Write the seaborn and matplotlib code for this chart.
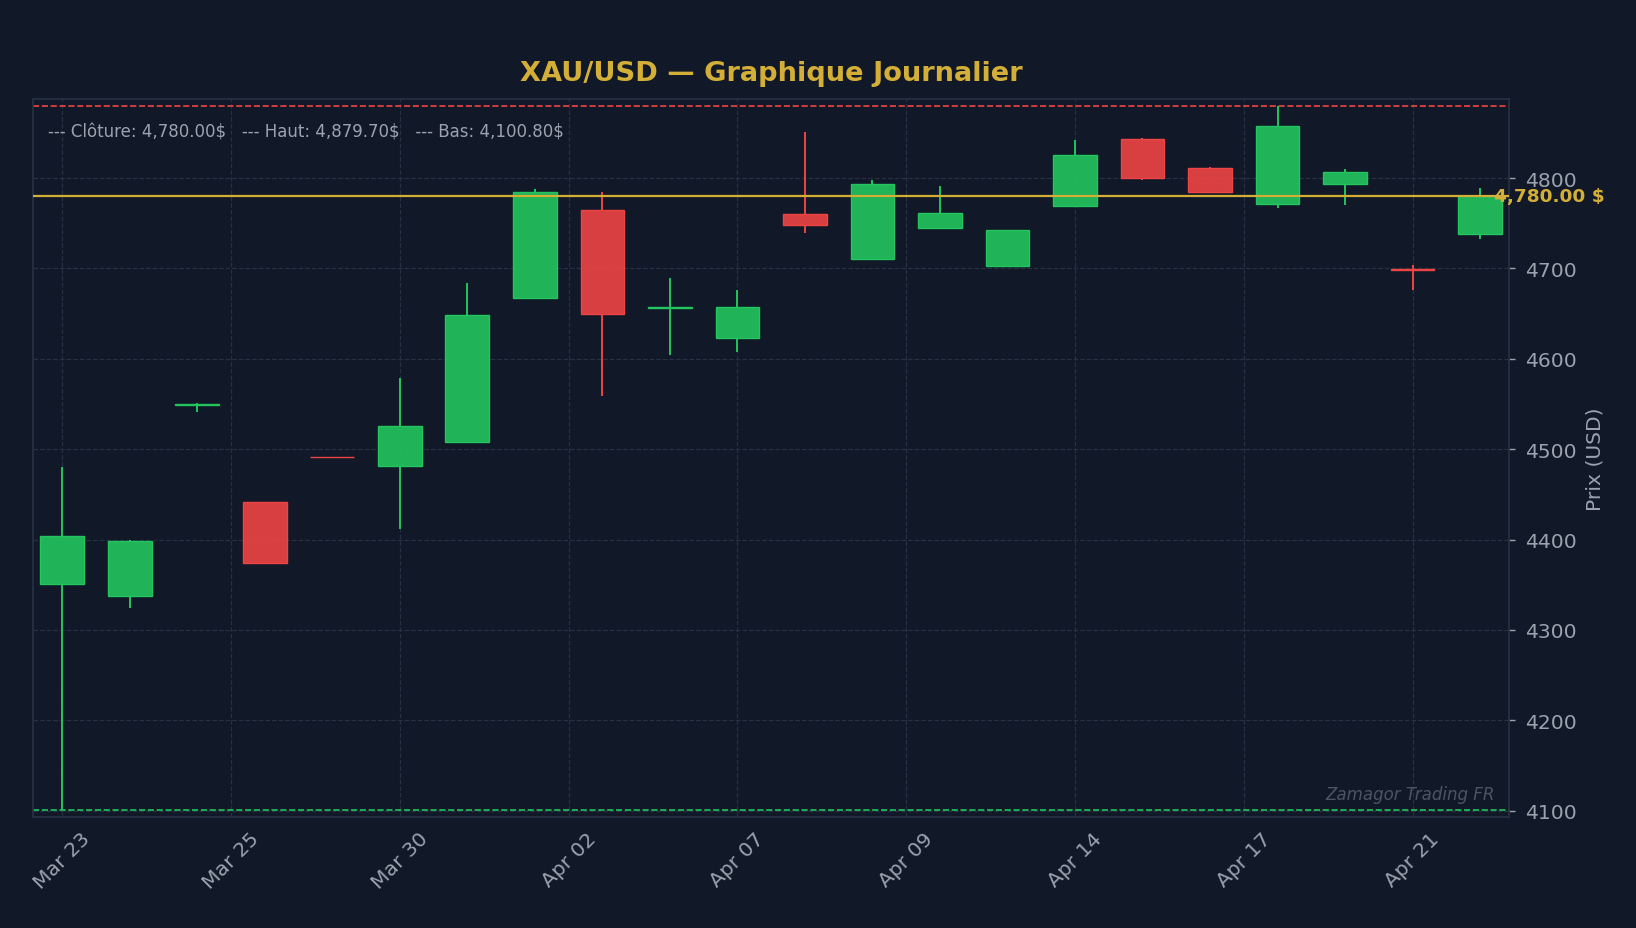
import numpy as np
import matplotlib
matplotlib.use("Agg")
import matplotlib.pyplot as plt
import seaborn as sns
from matplotlib.colors import to_rgba
from matplotlib.ticker import FuncFormatter, MultipleLocator

# daily candles (trading days only)
dates = ["Mar 23", "Mar 24", "Mar 25", "Mar 26", "Mar 27", "Mar 30", "Mar 31",
         "Apr 01", "Apr 02", "Apr 06", "Apr 07", "Apr 08", "Apr 09", "Apr 10",
         "Apr 13", "Apr 14", "Apr 15", "Apr 16", "Apr 17", "Apr 20", "Apr 21", "Apr 22"]
opens = [4351, 4337, 4549, 4441, 4491.5, 4481, 4508, 4667, 4765, 4656, 4623,
         4760, 4710, 4745, 4703, 4769, 4843, 4811, 4771, 4793, 4699, 4738]
highs = [4480, 4399, 4551, 4442, 4491.5, 4579, 4684, 4788, 4784, 4689, 4676,
         4851, 4798, 4791, 4743, 4842, 4844, 4812, 4879.7, 4810, 4704, 4789]
lows = [4100.8, 4324, 4541, 4374, 4491, 4412, 4508, 4667, 4559, 4604, 4607,
        4739, 4710, 4745, 4703, 4769, 4798, 4785, 4767, 4770, 4676, 4733]
closes = [4404, 4398, 4550, 4374, 4491, 4526, 4648, 4784, 4650, 4657, 4657,
          4748, 4793, 4761, 4743, 4826, 4800, 4785, 4858, 4807, 4698, 4780]

last_close = 4780.00
period_high = 4879.70
period_low = 4100.80

BG = "#111827"
GREEN = "#22c55e"
RED = "#ef4444"
GOLD = "#d4af37"
TXT = "#9ca3af"

sns.set_theme(style="dark", rc={
    "figure.facecolor": BG,
    "axes.facecolor": BG,
    "axes.edgecolor": "#263244",
    "grid.color": "#263244",
    "text.color": TXT,
    "xtick.color": TXT,
    "ytick.color": TXT,
    "axes.labelcolor": TXT,
})
plt.rcParams["font.family"] = ["DejaVu Sans"]

fig = plt.figure(figsize=(16.36, 9.29), dpi=100)
ax = fig.add_axes([0.0204, 0.1195, 0.9020, 0.7729])

x = np.arange(len(opens))
o = np.array(opens)
c = np.array(closes)
body_lo = np.minimum(o, c)
body_hi = np.maximum(o, c)
up = c >= o
cols = [GREEN if u else RED for u in up]

# wicks (above and below the body) then bodies
ax.vlines(x, body_hi, highs, colors=cols, linewidth=1.4, zorder=2)
ax.vlines(x, lows, body_lo, colors=cols, linewidth=1.4, zorder=2)
ax.bar(x, body_hi - body_lo, bottom=body_lo, width=0.65,
       color=[to_rgba(cc, 0.9) for cc in cols], edgecolor=cols,
       linewidth=1.0, zorder=3)

# reference lines
ax.axhline(last_close, color=GOLD, linewidth=1.6, zorder=4)
ax.axhline(period_high, color=RED, linewidth=1.2, linestyle="--", zorder=1)
ax.axhline(period_low, color=GREEN, linewidth=1.2, linestyle="--", zorder=1)

ax.text(len(opens) - 0.8, last_close, f"{last_close:,.2f} $", color=GOLD,
        fontsize=13.3, fontweight="bold", va="center", ha="left", clip_on=False, zorder=5)

ax.text(0.01, 0.955,
        f"--- Clôture: {last_close:,.2f}$   --- Haut: {period_high:,.2f}$   --- Bas: {period_low:,.2f}$",
        transform=ax.transAxes, fontsize=12, color=TXT, va="center", ha="left")

ax.text(0.99, 0.019, "Zamagor Trading FR", transform=ax.transAxes, fontsize=12,
        color="#4b5563", style="italic", ha="right", va="bottom")

span = period_high - period_low
ax.set_ylim(period_low - 0.01 * span, period_high + 0.01 * span)
ax.set_xlim(-0.43, len(opens) - 0.57)

ax.xaxis.set_major_locator(MultipleLocator(2.5))
ax.xaxis.set_major_formatter(FuncFormatter(
    lambda v, p: dates[int(round(v))] if 0 <= round(v) < len(dates) else ""))
ax.yaxis.set_major_locator(MultipleLocator(100))
ax.yaxis.tick_right()
ax.yaxis.set_label_position("right")
ax.set_ylabel("Prix (USD)", fontsize=14.6, labelpad=6)
ax.tick_params(axis="y", labelsize=14.6, length=4.5, width=1, pad=7, colors=TXT)
ax.tick_params(axis="x", labelsize=14.6, length=4.5, width=1, pad=4, colors=TXT,
               labelrotation=45)

ax.grid(True, linestyle="--", linewidth=0.9, color="#263244")
for s in ax.spines.values():
    s.set_color("#263244")
    s.set_linewidth(1.2)

ax.set_title("XAU/USD — Graphique Journalier", color=GOLD, fontsize=19.6,
             fontweight="bold", pad=14)

fig.savefig("out.png", dpi=100, facecolor=BG)
